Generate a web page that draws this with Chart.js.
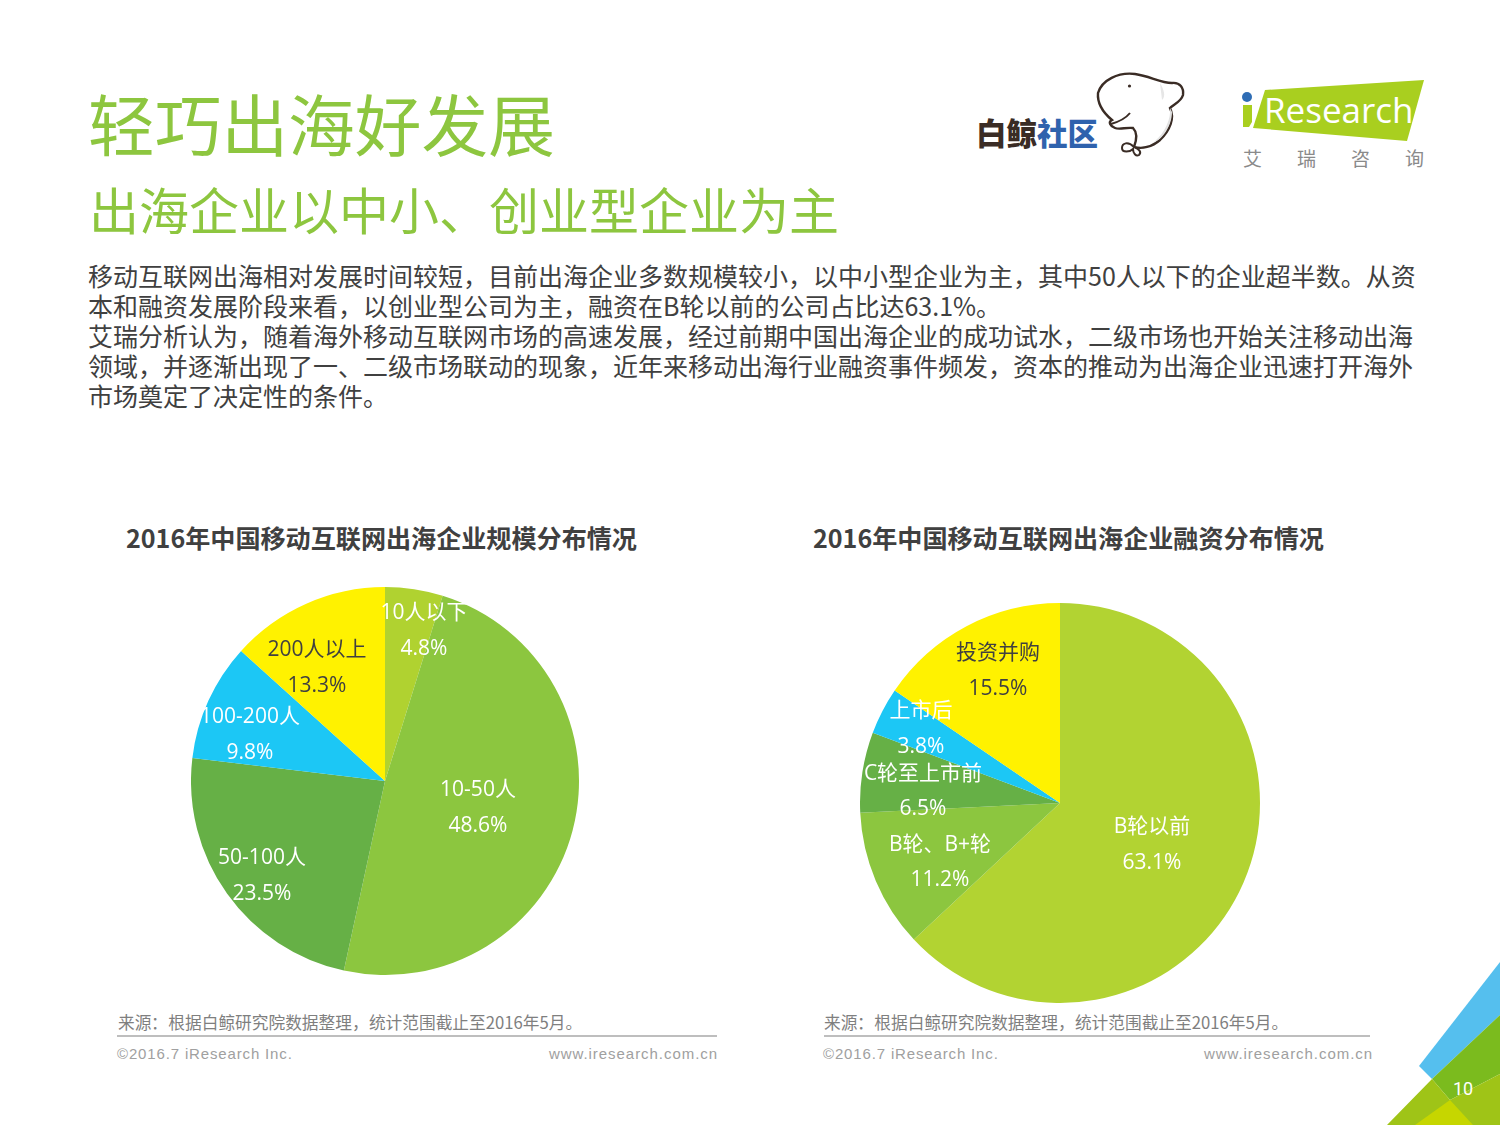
<!DOCTYPE html>
<html lang="zh-CN">
<head>
<meta charset="utf-8">
<title>轻巧出海好发展</title>
<script src="https://cdn.jsdelivr.net/npm/chart.js@4"></script>
<style>
  /* coma y dos puntos centrados, como en el original */
  @font-face { font-family: "CentredPunct"; src: local("NotoSansCJKtc-Regular"), local("Noto Sans CJK TC Regular"), local("Noto Sans CJK TC"); unicode-range: U+FF0C, U+FF1A; }
  html, body { margin: 0; padding: 0; background: #fff; }
  #page { position: relative; width: 1500px; height: 1125px; overflow: hidden; background: #fff; font-family: "CentredPunct", "Noto Sans CJK SC", "Noto Sans", sans-serif; }
  #page > * { position: absolute; }
  .t { white-space: nowrap; line-height: 1; }
  #deco { left: 0; top: 0; }
  .pieBox { display: block; }
  .lbl { position: absolute; white-space: nowrap; font-family: "Open Sans", "Noto Sans CJK SC", sans-serif; font-size: 21px; line-height: 1; transform: translate(-50%, -50%); }
</style>
</head>
<body>
<div id="page">
  <svg id="deco" width="1500" height="1125" viewBox="0 0 1500 1125">
    <!-- corner -->
    <polygon points="1500,962 1419,1066 1432,1079 1500,1015" fill="#55bfee"/>
    <polygon points="1432,1079 1500,1015 1500,1074 1450,1100" fill="#7bbb1e"/>
    <polygon points="1387,1125 1432,1079 1450,1100 1500,1074 1500,1125" fill="#9fc417"/>
    <polygon points="1415,1125 1450,1100 1473,1125" fill="#c6d600"/>
    <!-- iResearch logo -->
    <polygon points="1265,90 1424,80 1407,141 1253,128" fill="#a9cf1f"/>
    <circle cx="1247" cy="97" r="5" fill="#2f6db5"/>
    <polygon points="1243,105 1252,105 1252,122 1249,127 1243,127" fill="#a9cf1f"/>
    <!-- whale -->
    <path d="M1098,93 C1102,80 1118,72 1135,74 C1150,76 1160,83 1172,83 C1180,82 1184,88 1183,95 C1181,102 1174,104 1170,108 C1175,118 1170,130 1160,140 C1152,147 1142,149 1134,147 C1137,139 1137,132 1133,128 C1126,127 1120,130 1115,128 C1110,126 1108,122 1112,120 C1106,115 1097,105 1098,93 Z" fill="#fff" stroke="#3a2c25" stroke-width="2.4"/>
    <path d="M1111,124 C1118,122 1126,118 1130,113" fill="none" stroke="#3a2c25" stroke-width="2"/>
    <path d="M1134,147 C1128,141 1122,143 1122,148 C1122,153 1130,152 1133,149 C1133,153 1136,157 1139,155 C1142,152 1139,149 1134,147 Z" fill="#fff" stroke="#3a2c25" stroke-width="2"/>
    <circle cx="1129.500" cy="86" r="1.600" fill="#3a2c25"/>
    <path d="M1160,83 C1164,90 1166,96 1162,100 Z" fill="#e6e6e6"/>
    <path d="M1170,108 C1171,118 1166,132 1154,142 C1162,140 1172,126 1172,112 Z" fill="#e2e2e2"/>
    <!-- footer rules -->
    <line x1="117" y1="1036" x2="717" y2="1036" stroke="#7f7f7f" stroke-width="1.200"/>
    <line x1="824" y1="1036" x2="1370" y2="1036" stroke="#7f7f7f" stroke-width="1.200"/>
  </svg>

  <div class="t" style="left:88px;top:89px;font-size:66.700px;font-weight:400;color:#8dc63f;">轻巧出海好发展</div>
  <div class="t" style="left:89px;top:183px;font-size:50px;font-weight:400;color:#8dc63f;">出海企业以中小、创业型企业为主</div>

  <div class="t" style="left:88px;top:260px;font-size:25px;line-height:30px;color:#404040;">移动互联网出海相对发展时间较短，目前出海企业多数规模较小，以中小型企业为主，其中50人以下的企业超半数。从资<br>本和融资发展阶段来看，以创业型公司为主，融资在B轮以前的公司占比达63.1%。<br>艾瑞分析认为，随着海外移动互联网市场的高速发展，经过前期中国出海企业的成功试水，二级市场也开始关注移动出海<br>领域，并逐渐出现了一、二级市场联动的现象，近年来移动出海行业融资事件频发，资本的推动为出海企业迅速打开海外<br>市场奠定了决定性的条件。</div>

  <div class="t" style="left:976px;top:117px;font-size:30.500px;font-weight:900;color:#3a2c25;">白鲸<span style="color:#2f62ad;">社区</span></div>
  <div class="t" style="left:1264px;top:92px;font-size:35px;font-family:'Open Sans',sans-serif;font-weight:400;color:#fff;">Research</div>
  <div class="t" style="left:1243px;top:148px;font-size:19px;letter-spacing:35px;color:#8a8a8a;">艾瑞咨询</div>

  <div class="t" style="left:126px;top:525px;font-size:25.100px;font-weight:700;color:#404040;">2016年中国移动互联网出海企业规模分布情况</div>
  <div class="t" style="left:813px;top:525px;font-size:25.100px;font-weight:700;color:#404040;">2016年中国移动互联网出海企业融资分布情况</div>

  <div id="boxLeft" style="left:191px;top:587px;width:388px;height:388px;"><canvas id="pieLeft" class="pieBox"></canvas></div>
  <div id="boxRight" style="left:860px;top:603px;width:400px;height:400px;"><canvas id="pieRight" class="pieBox"></canvas></div>

  <div class="t" style="left:118px;top:1014px;font-size:16.700px;color:#7f7f7f;">来源：根据白鲸研究院数据整理，统计范围截止至2016年5月。</div>
  <div class="t" style="left:824px;top:1014px;font-size:16.700px;color:#7f7f7f;">来源：根据白鲸研究院数据整理，统计范围截止至2016年5月。</div>
  <div class="t" style="left:117px;top:1046px;font-size:15px;letter-spacing:0.850px;font-family:'Liberation Sans',sans-serif;color:#a0a0a0;">©2016.7 iResearch Inc.</div>
  <div class="t" style="right:782px;top:1046px;font-size:15px;letter-spacing:0.950px;font-family:'Liberation Sans',sans-serif;color:#a0a0a0;">www.iresearch.com.cn</div>
  <div class="t" style="left:823px;top:1046px;font-size:15px;letter-spacing:0.850px;font-family:'Liberation Sans',sans-serif;color:#a0a0a0;">©2016.7 iResearch Inc.</div>
  <div class="t" style="right:127px;top:1046px;font-size:15px;letter-spacing:0.950px;font-family:'Liberation Sans',sans-serif;color:#a0a0a0;">www.iresearch.com.cn</div>
  <div class="t" style="left:1453px;top:1080px;font-size:18px;font-family:'Roboto',sans-serif;color:#fff;">10</div>
</div>

<script>
// datos de los dos pasteles
const sizeCategories = ['10人以下', '10-50人', '50-100人', '100-200人', '200人以上'];
const sizeValues = [4.8, 48.6, 23.5, 9.8, 13.3];
const fundingCategories = ['B轮以前', 'B轮、B+轮', 'C轮至上市前', '上市后', '投资并购'];
const fundingValues = [63.1, 11.2, 6.5, 3.8, 15.5];

const sliceColors = ['#b0d230', '#8cc63f', '#66b046', '#1cc7f5', '#fff200'];
const sliceColorsFunding = ['#b2d332', '#8cc63f', '#66b046', '#1cc7f5', '#fff200'];
const labelColors = ['#fff', '#fff', '#fff', '#fff', '#404040'];

// posicion de cada rotulo en la pagina: [x, y nombre, y valor]
const sizeLabelPos = [[424, 611, 647], [478, 788, 824], [262, 856, 892], [250, 715, 751], [317, 648, 684]];
const fundingLabelPos = [[1152, 825, 861], [940, 843, 878], [923, 772, 807], [921, 709, 745], [998, 651, 687]];

function drawPie(canvasId, categories, values, colors) {
    return new Chart(document.getElementById(canvasId), {
        type: 'pie',
        data: { labels: categories, datasets: [{ data: values, backgroundColor: colors, borderWidth: 0 }] },
        options: {
            responsive: true,
            maintainAspectRatio: false,
            animation: false,
            layout: { padding: 0 },
            plugins: { legend: { display: false }, tooltip: { enabled: false } }
        }
    });
}

function addLabels(categories, values, positions) {
    const page = document.getElementById('page');
    categories.forEach((name, i) => {
        const [x, yName, yValue] = positions[i];
        [[name, yName], [values[i].toFixed(1) + '%', yValue]].forEach(([text, y]) => {
            const el = document.createElement('div');
            el.className = 'lbl';
            el.textContent = text;
            el.style.left = x + 'px';
            el.style.top = y + 'px';
            el.style.color = labelColors[i];
            page.appendChild(el);
        });
    });
}

drawPie('pieLeft', sizeCategories, sizeValues, sliceColors);
drawPie('pieRight', fundingCategories, fundingValues, sliceColorsFunding);
addLabels(sizeCategories, sizeValues, sizeLabelPos);
addLabels(fundingCategories, fundingValues, fundingLabelPos);
</script>
</body>
</html>
